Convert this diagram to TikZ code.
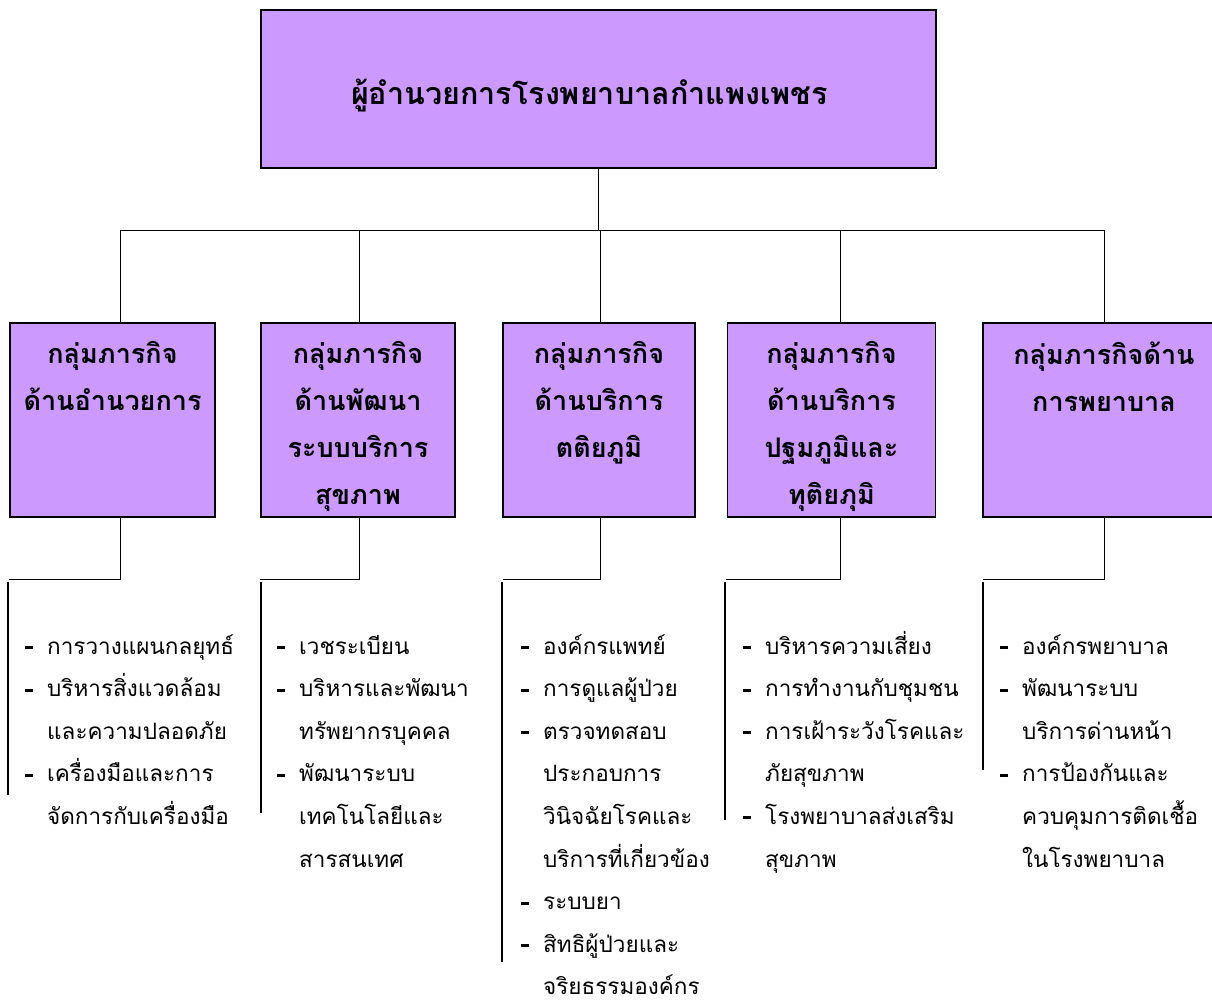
\documentclass[tikz,border=0pt]{standalone}
\usepackage{fontspec}
\newfontfamily\thaifont[Script=Thai]{Loma}
\usetikzlibrary{positioning}
\definecolor{boxlilac}{HTML}{CC99FF}
\newcommand{\taskitem}[1]{\makebox[22pt][l]{\rule[5pt]{8pt}{3pt}}#1}
\newcommand{\taskmore}[1]{\hspace*{22pt}#1}

\begin{document}
\begin{tikzpicture}[
    x=1pt, y=-1pt,
    headbox/.style={draw, line width=1.3pt, fill=boxlilac, minimum width=675pt, minimum height=158pt, inner sep=0pt},
    headtext/.style={inner sep=0pt, font=\thaifont\bfseries\fontsize{30.5}{36}\selectfont},
    groupbox/.style={draw, line width=1.3pt, fill=boxlilac, minimum height=194pt, inner sep=0pt},
    grouptext/.style={align=center, inner sep=0pt, font=\thaifont\bfseries\fontsize{27}{47}\selectfont},
    tasklist/.style={anchor=base west, align=left, inner sep=0pt, font=\thaifont\fontsize{22.5}{42.6}\selectfont},
    link/.style={line width=1pt},
    bracket/.style={line width=2pt},
]
    \useasboundingbox (0,0) rectangle (1212,1004);

    % Director
    \node[headbox] (boss) at (598.5,89) {};
    \node[headtext] (bosst) at ([xshift=-9pt, yshift=-7pt]boss.center) {ผู้อำนวยการโรงพยาบาลกำแพงเพชร};

    % Mission groups
    \node[groupbox, minimum width=205pt] (g1) at (112.5,420) {};
    \node[groupbox, minimum width=194pt] (g2) at (358,420) {};
    \node[groupbox, minimum width=192pt] (g3) at (599,420) {};
    \node[groupbox, minimum width=208pt] (g4) at (831.5,420) {};
    \node[groupbox, minimum width=242pt] (g5) at (1104,420) {};

    \node[grouptext, below=19pt of g1.north] (g1t) {กลุ่มภารกิจ\\ด้านอำนวยการ};
    \node[grouptext, below=19pt of g2.north] (g2t) {กลุ่มภารกิจ\\ด้านพัฒนา\\ระบบบริการ\\สุขภาพ};
    \node[grouptext, below=19pt of g3.north] (g3t) {กลุ่มภารกิจ\\ด้านบริการ\\ตติยภูมิ};
    \node[grouptext, below=19pt of g4.north] (g4t) {กลุ่มภารกิจ\\ด้านบริการ\\ปฐมภูมิและ\\ทุติยภุมิ};
    \node[grouptext, below=19pt of g5.north] (g5t) {กลุ่มภารกิจด้าน\\การพยาบาล};

    % Director -> groups
    \coordinate (d1) at (120,230);
    \coordinate (d2) at (359,230);
    \coordinate (d3) at (600,230);
    \coordinate (d4) at (840,230);
    \coordinate (d5) at (1104,230);
    \draw[link] (boss.south) -- (boss.south |- d1);
    \draw[link] (d1) -- (d5);
    \draw[link] (d1) -- (d1 |- g1.north);
    \draw[link] (d2) -- (d2 |- g2.north);
    \draw[link] (d3) -- (d3 |- g3.north);
    \draw[link] (d4) -- (d4 |- g4.north);
    \draw[link] (d5) -- (d5 |- g5.north);

    % Task lists (placed by the baseline of their last line)
    \node[tasklist] (l1) at (25,824.4) {\taskitem{การวางแผนกลยุทธ์}\\
        \taskitem{บริหารสิ่งแวดล้อม}\\
        \taskmore{และความปลอดภัย}\\
        \taskitem{เครื่องมือและการ}\\
        \taskmore{จัดการกับเครื่องมือ}};
    \node[tasklist] (l2) at (277,867) {\taskitem{เวชระเบียน}\\
        \taskitem{บริหารและพัฒนา}\\
        \taskmore{ทรัพยากรบุคคล}\\
        \taskitem{พัฒนาระบบ}\\
        \taskmore{เทคโนโลยีและ}\\
        \taskmore{สารสนเทศ}};
    \node[tasklist] (l3) at (521,994.8) {\taskitem{องค์กรแพทย์}\\
        \taskitem{การดูแลผู้ป่วย}\\
        \taskitem{ตรวจทดสอบ}\\
        \taskmore{ประกอบการ}\\
        \taskmore{วินิจฉัยโรคและ}\\
        \taskmore{บริการที่เกี่ยวข้อง}\\
        \taskitem{ระบบยา}\\
        \taskitem{สิทธิผู้ป่วยและ}\\
        \taskmore{จริยธรรมองค์กร}};
    \node[tasklist] (l4) at (743,867) {\taskitem{บริหารความเสี่ยง}\\
        \taskitem{การทำงานกับชุมชน}\\
        \taskitem{การเฝ้าระวังโรคและ}\\
        \taskmore{ภัยสุขภาพ}\\
        \taskitem{โรงพยาบาลส่งเสริม}\\
        \taskmore{สุขภาพ}};
    \node[tasklist] (l5) at (1000,867) {\taskitem{องค์กรพยาบาล}\\
        \taskitem{พัฒนาระบบ}\\
        \taskmore{บริการด่านหน้า}\\
        \taskitem{การป้องกันและ}\\
        \taskmore{ควบคุมการติดเชื้อ}\\
        \taskmore{ในโรงพยาบาล}};

    % Groups -> task lists
    \coordinate (t1) at (9,579);
    \coordinate (t2) at (260,579);
    \coordinate (t3) at (503,579);
    \coordinate (t4) at (726,579);
    \coordinate (t5) at (983,579);
    \draw[link] (d1 |- g1.south) |- (t1);
    \draw[link] (d2 |- g2.south) |- (t2);
    \draw[link] (d3 |- g3.south) |- (t3);
    \draw[link] (d4 |- g4.south) |- (t4);
    \draw[link] (d5 |- g5.south) |- (t5);
    \draw[bracket] (8,582) -- (8,795);
    \draw[bracket] (261,582) -- (261,813);
    \draw[bracket] (502,582) -- (502,962);
    \draw[bracket] (725,582) -- (725,820);
    \draw[bracket] (983,582) -- (983,770);
\end{tikzpicture}
\end{document}
